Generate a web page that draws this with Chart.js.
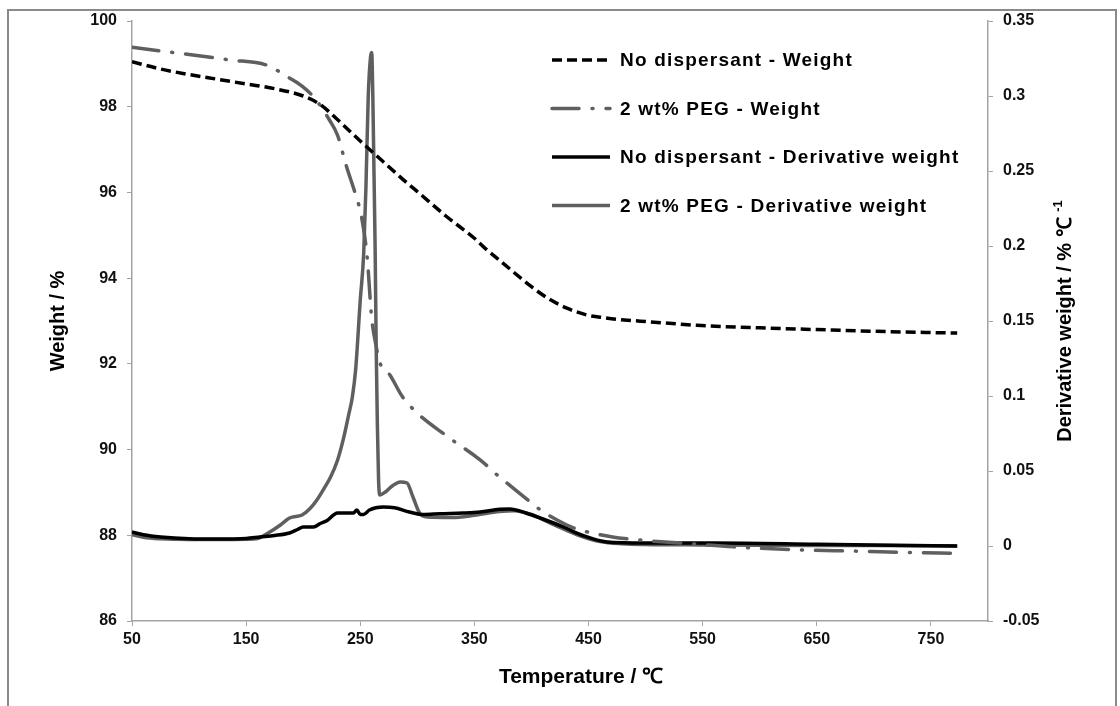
<!DOCTYPE html>
<html>
<head>
<meta charset="utf-8">
<script src="https://cdn.jsdelivr.net/npm/chart.js@4/dist/chart.umd.min.js"></script>
<style>
  html, body { margin: 0; padding: 0; background: #fff; }
  #wrap { position: relative; width: 1120px; height: 706px; }
</style>
</head>
<body>
<div id="wrap"><canvas id="tga"></canvas></div>
<script>
// TGA data (temperature in degC)
const ndWeightT = [50, 75, 100, 125, 150, 175, 200, 215, 230, 250, 275, 291, 300, 325, 350, 358, 375, 400, 415, 431, 450, 460, 475, 504, 545, 600, 650, 700, 750, 773];
const ndWeight  = [99.05, 98.88, 98.75, 98.64, 98.53, 98.42, 98.25, 98.05, 97.7, 97.2, 96.6, 96.22, 96.02, 95.45, 94.93, 94.73, 94.35, 93.8, 93.52, 93.3, 93.13, 93.09, 93.04, 92.98, 92.9, 92.84, 92.8, 92.76, 92.73, 92.72];

const pegWeightT = [50, 75, 100, 136, 168, 186, 199, 210, 223, 230, 238, 246, 251, 256, 260, 264, 267, 276, 287, 300, 325, 355, 372, 384, 397, 408, 431, 443, 471, 495, 540, 577, 633, 685, 730, 772];
const pegWeight  = [99.39, 99.3, 99.22, 99.09, 98.97, 98.7, 98.48, 98.2, 97.69, 97.34, 96.6, 95.94, 95.45, 94.5, 93.07, 92.4, 92.04, 91.74, 91.23, 90.85, 90.33, 89.76, 89.36, 89.1, 88.82, 88.59, 88.24, 88.12, 87.96, 87.89, 87.8, 87.73, 87.66, 87.63, 87.6, 87.58];

const ndDerivT = [50, 60, 75, 100, 125, 150, 162, 175, 188, 195, 200, 209, 215, 221, 230, 244, 247, 250, 253, 258, 270, 280, 293, 305, 320, 340, 355, 372, 381, 395, 410, 428, 445, 466, 500, 560, 650, 773];
const ndDeriv  = [0.0093, 0.0075, 0.006, 0.0048, 0.0046, 0.005, 0.006, 0.007, 0.0087, 0.011, 0.0127, 0.0127, 0.015, 0.017, 0.022, 0.022, 0.024, 0.021, 0.021, 0.024, 0.026, 0.0255, 0.0227, 0.021, 0.0215, 0.022, 0.0227, 0.0245, 0.0247, 0.022, 0.018, 0.0127, 0.007, 0.0027, 0.002, 0.002, 0.0012, 0.0];

const pegDerivT = [50, 60, 75, 100, 125, 150, 160, 170, 180, 188, 199, 206, 212, 218, 224, 230, 235, 240, 243, 246, 250, 253, 255, 257, 259, 260, 261, 262, 263, 264, 265, 266, 267, 272, 278, 285, 291, 296, 302, 309, 330, 350, 372, 385, 400, 420, 440, 460, 480, 500, 550, 600, 700, 773];
const pegDeriv  = [0.0075, 0.0058, 0.0048, 0.0043, 0.0043, 0.0045, 0.005, 0.009, 0.014, 0.0187, 0.0207, 0.025, 0.0307, 0.038, 0.046, 0.057, 0.0707, 0.088, 0.099, 0.118, 0.164, 0.195, 0.24, 0.30, 0.326, 0.329, 0.30, 0.25, 0.20, 0.13, 0.08, 0.045, 0.034, 0.036, 0.040, 0.0427, 0.042, 0.033, 0.022, 0.0193, 0.019, 0.0205, 0.023, 0.0235, 0.021, 0.014, 0.0075, 0.003, 0.0015, 0.001, 0.0007, 0.0005, 0.0003, 0.0];

const seriesNames = [
  'No dispersant - Weight',
  '2 wt% PEG - Weight',
  'No dispersant - Derivative weight',
  '2 wt% PEG - Derivative weight'
];

const tempTicks = [50, 150, 250, 350, 450, 550, 650, 750];

const FONT = '"Liberation Sans", Arial, sans-serif';
const GREY = '#5f5f5f';
const AXIS = '#a3a3a3';

const pts = (xs, ys) => xs.map((x, i) => ({ x, y: ys[i] }));

// outer frame round the whole picture
const framePlugin = {
  id: 'frame',
  beforeDraw(chart) {
    const ctx = chart.ctx;
    ctx.save();
    ctx.fillStyle = '#fff';
    ctx.fillRect(0, 0, chart.width, chart.height);
    ctx.strokeStyle = '#8a8a8a';
    ctx.lineWidth = 2;
    ctx.strokeRect(8, 10, 1108, 702);
    ctx.restore();
  }
};

// legend inside the plot, x title, right axis title with superscript
const extrasPlugin = {
  id: 'extras',
  afterDraw(chart) {
    const ctx = chart.ctx;
    const area = chart.chartArea;
    ctx.save();

    // legend
    const lx = 552, lw = 58, ly0 = 60, lstep = 48.5;
    chart.data.datasets.forEach((ds, i) => {
      const y = ly0 + i * lstep;
      ctx.beginPath();
      ctx.setLineDash(ds.borderDash || []);
      ctx.lineCap = ds.borderCapStyle || 'butt';
      ctx.strokeStyle = ds.borderColor;
      ctx.lineWidth = ds.borderWidth;
      ctx.moveTo(lx, y);
      ctx.lineTo(lx + lw, y);
      ctx.stroke();
      ctx.setLineDash([]);
      ctx.font = 'bold 19px ' + FONT;
      ctx.letterSpacing = '1.2px';
      ctx.fillStyle = '#000';
      ctx.textBaseline = 'middle';
      ctx.textAlign = 'left';
      ctx.fillText(ds.label, lx + lw + 10, y + 1);
      ctx.letterSpacing = '0px';
    });

    // x axis title
    ctx.font = 'bold 21px ' + FONT;
    ctx.textAlign = 'center';
    ctx.textBaseline = 'middle';
    ctx.fillText('Temperature / ℃', 581, 677);

    // right axis title
    const main = 'Derivative weight / % ℃ ';
    const sup = '-1';
    ctx.font = 'bold 20px ' + FONT;
    const mw = ctx.measureText(main).width;
    ctx.font = 'bold 13px ' + FONT;
    const sw = ctx.measureText(sup).width;
    const cy = (area.top + area.bottom) / 2;
    ctx.translate(1065, cy);
    ctx.rotate(-Math.PI / 2);
    ctx.textBaseline = 'middle';
    ctx.textAlign = 'left';
    ctx.fillStyle = '#000';
    const start = -(mw + sw) / 2;
    ctx.font = 'bold 20px ' + FONT;
    ctx.fillText(main, start, 0);
    ctx.font = 'bold 13px ' + FONT;
    ctx.fillText(sup, start + mw, -7);
    ctx.restore();
  }
};

const tickFont = { family: FONT, size: 16, weight: 'bold' };

new Chart(document.getElementById('tga'), {
  type: 'line',
  data: {
    datasets: [
      {
        label: seriesNames[0],
        data: pts(ndWeightT, ndWeight),
        yAxisID: 'y',
        borderColor: '#000',
        borderWidth: 3.5,
        borderDash: [10, 5],
        borderCapStyle: 'butt'
      },
      {
        label: seriesNames[1],
        data: pts(pegWeightT, pegWeight),
        yAxisID: 'y',
        borderColor: GREY,
        borderWidth: 3.5,
        borderDash: [27, 13, 1, 13],
        borderCapStyle: 'round'
      },
      {
        label: seriesNames[2],
        data: pts(ndDerivT, ndDeriv),
        yAxisID: 'y1',
        borderColor: '#000',
        borderWidth: 3.5
      },
      {
        label: seriesNames[3],
        data: pts(pegDerivT, pegDeriv),
        yAxisID: 'y1',
        borderColor: GREY,
        borderWidth: 3.5
      }
    ]
  },
  options: {
    responsive: true,
    maintainAspectRatio: false,
    animation: false,
    parsing: false,
    layout: { padding: { top: 21, left: 0, right: 0, bottom: 0 } },
    elements: {
      point: { radius: 0 },
      line: { cubicInterpolationMode: 'monotone', fill: false }
    },
    plugins: {
      legend: { display: false },
      tooltip: { enabled: false }
    },
    scales: {
      x: {
        type: 'linear',
        min: 50,
        max: 800,
        afterBuildTicks: s => { s.ticks = tempTicks.map(v => ({ value: v })); },
        afterFit: s => { s.height = 85; },
        border: { color: AXIS, width: 1.5 },
        grid: { drawOnChartArea: false, drawTicks: true, tickLength: 5, color: AXIS },
        ticks: { font: tickFont, color: '#111', padding: 4, maxRotation: 0, callback: v => String(v) }
      },
      y: {
        position: 'left',
        min: 86,
        max: 100,
        afterFit: s => { s.width = 132; },
        border: { color: AXIS, width: 1.5 },
        grid: { drawOnChartArea: false, drawTicks: true, tickLength: 5, color: AXIS },
        ticks: { stepSize: 2, font: tickFont, color: '#111', padding: 10 },
        title: {
          display: true,
          text: 'Weight / %',
          font: { family: FONT, size: 20, weight: 'bold' },
          color: '#000',
          padding: { top: 46, bottom: 0 }
        }
      },
      y1: {
        position: 'right',
        min: -0.05,
        max: 0.35,
        afterFit: s => { s.width = 132; },
        border: { color: AXIS, width: 1.5 },
        grid: { drawOnChartArea: false, drawTicks: true, tickLength: 5, color: AXIS },
        ticks: {
          stepSize: 0.05,
          font: tickFont,
          color: '#111',
          padding: 10,
          callback: v => String(Math.round(v * 100) / 100)
        }
      }
    }
  },
  plugins: [framePlugin, extrasPlugin]
});
</script>
</body>
</html>
